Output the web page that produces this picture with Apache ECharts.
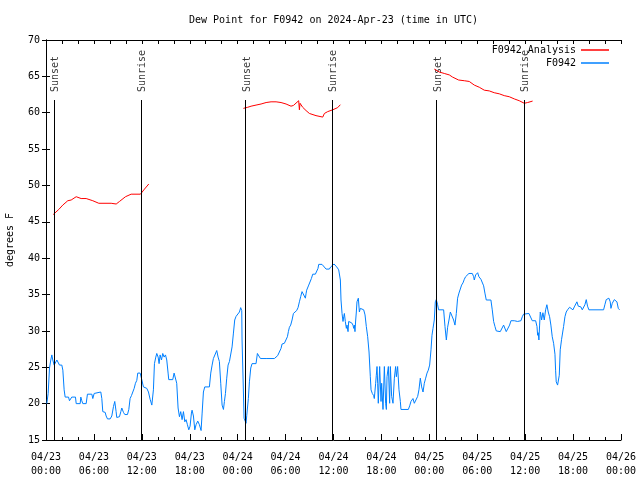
<!DOCTYPE html>
<html>
<head>
<meta charset="utf-8">
<script src="https://cdn.jsdelivr.net/npm/echarts@6/dist/echarts.min.js"></script>
<style>
html,body{margin:0;padding:0;background:#fff;}
#chart{width:640px;height:480px;}
</style>
</head>
<body>
<div id="chart"></div>
<script>
// Hours after 2024-04-23 00:00 UTC
var titleText = "Dew Point for F0942 on 2024-Apr-23 (time in UTC)";
var yAxisName = "degrees F";
var tickLabels = ["04/23\n00:00","04/23\n06:00","04/23\n12:00","04/23\n18:00","04/24\n00:00","04/24\n06:00","04/24\n12:00","04/24\n18:00","04/25\n00:00","04/25\n06:00","04/25\n12:00","04/25\n18:00","04/26\n00:00"];

var sunsetHours = [0.98, 24.97, 48.92];
var sunriseHours = [11.88, 35.8, 59.83];

// F0942 Analysis (three nightly segments)
var analysisHours1 = [0.9,1.6,2.1,2.73,3.15,3.78,4.4,5.03,5.86,6.61,8.16,8.79,9.2,9.95,10.66,11.83,12.33,12.87];
var analysisValues1 = [46.0,46.7,47.3,47.9,48.0,48.45,48.2,48.2,47.9,47.55,47.55,47.45,47.8,48.45,48.8,48.8,49.5,50.2];
var analysisHours2 = [24.72,25.26,25.68,26.3,26.93,27.56,28.18,28.81,29.43,30.06,30.68,30.98,31.64,31.73,31.81,32.14,32.56,32.98,33.81,34.65,34.86,35.27,35.9,36.52,36.86];
var analysisValues2 = [60.6,60.75,60.9,61.05,61.2,61.4,61.5,61.5,61.4,61.2,60.9,61.0,61.65,60.4,61.3,60.75,60.3,59.9,59.6,59.4,59.9,60.15,60.4,60.7,61.1];
var analysisHours3 = [48.62,49.25,49.87,50.5,50.91,51.66,52.38,53.0,53.63,54.26,54.88,55.51,56.13,56.76,57.38,58.01,58.64,59.26,59.89,60.3,60.93];
var analysisValues3 = [66.0,65.6,65.4,65.2,64.9,64.5,64.4,64.3,63.8,63.5,63.1,63.0,62.75,62.6,62.35,62.2,61.9,61.65,61.3,61.4,61.6];

// F0942 observations
var obsHours = [0.10,0.27,0.44,0.60,0.73,0.85,1.02,1.19,1.36,1.52,1.69,1.98,2.11,2.27,2.40,2.82,2.94,3.11,3.23,3.69,3.78,4.28,4.36,4.48,4.61,5.03,5.19,5.74,5.86,6.03,6.24,6.86,6.99,7.11,7.41,7.53,7.70,8.03,8.24,8.45,8.61,8.78,8.86,9.20,9.37,9.49,9.70,9.87,10.20,10.37,10.53,10.70,10.87,11.04,11.20,11.37,11.49,11.79,11.95,12.20,12.41,12.62,12.83,13.04,13.25,13.37,13.45,13.58,13.75,13.87,14.04,14.16,14.29,14.46,14.62,14.79,14.96,15.12,15.29,15.37,15.87,16.04,16.29,16.37,16.54,16.71,16.87,17.04,17.21,17.38,17.54,17.71,17.88,18.04,18.21,18.29,18.46,18.63,18.79,19.00,19.21,19.42,19.55,19.71,19.88,20.46,20.63,20.80,20.96,21.13,21.21,21.38,21.55,21.71,21.88,22.05,22.22,22.34,22.47,22.63,22.80,22.97,23.13,23.30,23.47,23.63,23.80,24.05,24.22,24.38,24.51,24.55,24.72,24.80,24.97,25.05,25.14,25.26,25.34,25.47,25.64,25.80,26.30,26.47,26.72,26.85,27.56,27.76,28.60,28.81,29.01,29.22,29.43,29.56,29.85,30.06,30.23,30.35,30.48,30.64,30.81,30.98,31.10,31.39,31.56,31.73,31.89,32.06,32.31,32.48,32.56,32.64,32.81,32.90,33.06,33.23,33.40,33.73,33.90,34.06,34.15,34.56,34.81,35.07,35.48,35.65,35.90,36.07,36.23,36.40,36.65,36.73,36.86,36.94,37.07,37.19,37.28,37.36,37.48,37.61,37.69,37.82,37.90,38.28,38.44,38.53,38.61,38.69,38.78,38.86,38.94,39.11,39.24,39.36,39.53,39.78,39.95,40.11,40.28,40.45,40.61,40.70,40.86,41.03,41.11,41.28,41.36,41.45,41.53,41.61,41.78,41.95,42.03,42.20,42.37,42.53,42.62,42.70,42.87,43.03,43.12,43.28,43.45,43.62,43.78,43.87,44.03,44.20,44.37,44.45,45.37,45.54,45.70,45.95,46.12,46.37,46.54,46.70,46.87,47.04,47.21,47.37,47.54,47.71,47.87,48.04,48.21,48.33,48.46,48.62,48.75,48.87,49.04,49.16,49.79,49.96,50.13,50.29,50.46,50.63,50.88,51.04,51.21,51.38,51.54,51.71,51.88,52.04,52.21,52.38,52.54,52.71,52.96,53.38,53.55,53.63,53.80,54.05,54.21,54.46,54.63,54.80,54.96,55.13,55.71,55.88,56.05,56.22,56.38,56.63,56.88,57.13,57.30,57.47,57.63,57.88,58.05,58.22,58.64,58.80,59.05,59.22,59.47,59.64,59.80,60.05,60.47,60.72,60.89,61.31,61.48,61.56,61.64,61.72,61.81,61.89,61.97,62.06,62.22,62.39,62.56,62.72,62.89,63.06,63.22,63.39,63.56,63.73,63.81,63.89,64.06,64.18,64.27,64.39,64.56,64.73,64.81,64.98,65.14,65.31,65.56,65.81,65.98,66.15,66.31,66.48,66.65,66.98,67.15,67.31,67.48,67.65,67.81,67.98,69.82,69.98,70.15,70.48,70.65,70.74,70.91,71.16,71.32,71.49,71.66,71.82];
var obsValues = [20.0,21.4,24.9,26.0,26.7,26.0,25.3,25.3,26.0,26.0,25.3,25.3,24.6,21.9,20.9,20.9,20.4,20.4,20.9,20.9,20.0,20.0,20.9,20.4,20.0,20.0,21.3,21.3,20.7,21.4,21.6,21.6,20.7,18.9,18.8,18.3,17.9,17.9,18.3,19.6,20.3,18.9,18.1,18.2,18.9,19.4,18.8,18.5,18.5,19.2,20.7,21.1,21.6,22.1,22.8,23.2,24.2,24.2,23.5,22.3,22.3,22.1,21.6,20.6,19.8,19.6,21.9,25.5,26.4,26.9,26.4,25.5,26.7,26.0,26.9,26.4,26.7,26.0,24.2,23.3,23.3,24.2,24.2,22.8,19.4,18.2,18.9,17.8,18.9,17.5,17.8,17.1,16.4,16.9,18.7,19.1,18.3,16.4,17.1,17.6,17.1,16.3,18.7,21.6,22.3,22.3,24.2,25.3,26.2,26.4,26.0,27.3,26.4,25.8,22.8,19.8,19.2,20.3,21.4,23.5,25.3,25.8,25.8,27.8,29.7,31.5,32.0,32.1,32.6,33.2,32.8,28.75,21.6,18.0,17.8,17.3,18.4,18.4,20.7,23.0,24.9,25.5,25.5,26.9,26.9,26.2,26.2,26.1,26.2,26.4,26.6,27.1,27.6,28.2,28.3,28.5,29.2,29.9,30.5,30.8,31.5,32.4,32.6,32.8,33.2,34.0,34.7,35.4,35.4,34.5,35.1,35.6,35.8,36.3,36.5,37.2,37.8,37.8,37.7,38.6,39.15,39.15,39.0,38.5,38.5,38.8,38.9,39.2,39.0,38.8,38.4,38.15,37.0,34.25,32.4,31.3,31.95,32.4,31.3,30.35,30.8,29.9,31.3,31.1,30.8,30.35,30.8,29.9,31.5,32.6,34.0,34.5,32.6,33.1,33.1,32.9,32.2,30.6,29.2,27.1,23.7,21.9,21.4,21.1,20.7,22.8,23.9,25.1,22.8,20.05,25.1,20.3,22.8,19.2,25.1,20.05,19.2,23.7,25.1,20.05,25.1,21.0,20.05,23.5,25.1,23.7,25.1,21.9,20.3,19.2,19.2,19.7,20.3,20.7,20.05,20.05,21.0,21.9,23.5,22.3,21.6,22.8,23.5,24.2,24.6,25.3,27.4,29.4,30.35,31.5,34.0,34.3,33.6,32.9,32.9,30.6,28.75,30.5,31.5,32.6,32.6,31.5,30.8,32.4,34.5,35.2,35.4,36.3,36.6,37.1,37.45,37.7,37.9,37.9,37.45,37.0,37.7,38.0,37.45,37.1,36.9,36.2,35.2,34.25,34.25,32.9,31.3,30.6,30.0,29.9,29.9,30.1,30.8,31.05,29.9,29.9,30.8,31.4,31.4,31.3,31.3,31.4,31.4,31.95,32.3,32.4,32.4,32.2,31.4,31.4,30.6,29.4,29.75,28.75,30.8,32.6,32.2,31.5,32.5,31.5,32.9,33.6,32.6,31.95,30.8,29.2,28.3,26.8,24.6,23.0,22.55,22.4,23.9,27.4,28.85,28.85,30.6,31.95,32.6,32.9,33.25,33.25,32.9,33.3,33.4,34.0,33.4,33.3,32.9,32.9,33.6,34.3,33.4,32.9,32.9,33.6,34.3,34.5,34.0,33.1,33.8,34.3,34.5,34.0,33.1,32.9];

function zip(h, v){ return h.map(function(t,i){ return [t, v[i]]; }); }
var analysisData = zip(analysisHours1, analysisValues1).concat([[18, '-']], zip(analysisHours2, analysisValues2), [[42, '-']], zip(analysisHours3, analysisValues3));
var obsData = zip(obsHours, obsValues);

var FONT = 'DejaVu Sans Mono';
var sunLineTop = 61.75, sunLabelBase = 62.85, yMin = 15;
var sunLines = [], sunLabels = [];
sunsetHours.forEach(function(t){ sunLines.push([{coord:[t,yMin]},{coord:[t,sunLineTop]}]); sunLabels.push({value:[t,sunLabelBase], name:'Sunset'}); });
sunriseHours.forEach(function(t){ sunLines.push([{coord:[t,yMin]},{coord:[t,sunLineTop]}]); sunLabels.push({value:[t,sunLabelBase], name:'Sunrise'}); });

var tickCommon = {inside:true, length:6, lineStyle:{color:'#000'}};
var minorCommon = {show:true, splitNumber:3, length:3, lineStyle:{color:'#000'}};

var chart = echarts.init(document.getElementById('chart'), null, {renderer:'canvas'});
chart.setOption({
  animation:false,
  backgroundColor:'#fff',
  textStyle:{fontFamily:FONT},
  title:{text:titleText, left:189, top:15, padding:0, textStyle:{fontFamily:FONT, fontSize:10, fontWeight:'normal', color:'#000'}},
  legend:{
    data:['F0942 Analysis','F0942'], orient:'vertical', right:31, top:44, padding:0, align:'right',
    icon:'rect', itemWidth:28, itemHeight:1.5, itemGap:1,
    textStyle:{fontFamily:FONT, fontSize:10, color:'#000', lineHeight:12}
  },
  grid:{left:46, right:19, top:40, bottom:40, outerBoundsMode:'none', containLabel:false},
  xAxis:[
    {type:'value', min:0, max:72, interval:6, position:'bottom',
     axisLine:{show:true, lineStyle:{color:'#000'}}, axisTick:tickCommon, minorTick:minorCommon, splitLine:{show:false},
     axisLabel:{margin:10, fontFamily:FONT, fontSize:10, color:'#000', lineHeight:14, formatter:function(v){ return tickLabels[Math.round(v/6)]; }}},
    {type:'value', min:0, max:72, interval:6, position:'top',
     axisLine:{show:true, lineStyle:{color:'#000'}}, axisTick:{inside:true, length:4, lineStyle:{color:'#000'}}, minorTick:{show:true, splitNumber:3, length:4, lineStyle:{color:'#000'}}, splitLine:{show:false}, axisLabel:{show:false}}
  ],
  yAxis:[
    {type:'value', min:15, max:70, interval:5, position:'left',
     name:yAxisName, nameLocation:'middle', nameGap:31, nameRotate:90, nameTextStyle:{fontFamily:FONT, fontSize:10, color:'#000'},
     axisLine:{show:true, lineStyle:{color:'#000'}}, axisTick:{inside:true, length:4, lineStyle:{color:'#000'}}, splitLine:{show:false},
     axisLabel:{margin:6, fontFamily:FONT, fontSize:10, color:'#000'}},
    {type:'value', min:15, max:70, interval:5, position:'right',
     axisLine:{show:true, lineStyle:{color:'#000'}}, axisTick:{inside:true, length:4, lineStyle:{color:'#000'}}, splitLine:{show:false}, axisLabel:{show:false}}
  ],
  series:[
    {name:'F0942 Analysis', type:'line', data:analysisData, showSymbol:false, connectNulls:false,
     lineStyle:{color:'#ff0000', width:1}, itemStyle:{color:'#ff0000'}, z:3},
    {name:'F0942', type:'line', data:obsData, showSymbol:false,
     lineStyle:{color:'#0080ff', width:1}, itemStyle:{color:'#0080ff'}, z:3},
    {name:'sun', type:'scatter', data:sunLabels, symbolSize:0, silent:true, z:2,
     label:{show:true, position:'inside', offset:[0,2], rotate:90, align:'left', verticalAlign:'middle', formatter:'{b}', fontFamily:FONT, fontSize:10, color:'#000'},
     markLine:{silent:true, symbol:['none','none'], label:{show:false}, lineStyle:{color:'#000', type:'solid', width:1}, data:sunLines}}
  ]
});
</script>
</body>
</html>
